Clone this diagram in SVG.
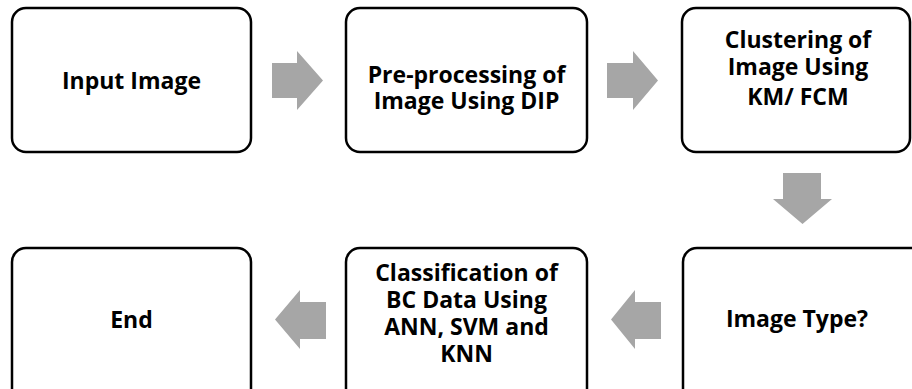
<svg xmlns="http://www.w3.org/2000/svg" width="912" height="389" viewBox="0 0 912 389">
  <style>
    .box { fill: #ffffff; stroke: #000000; stroke-width: 2.5; }
    .lbl { font-family: "Open Sans", "Noto Sans", "Liberation Sans", sans-serif; font-weight: 700; font-size: 23px; fill: #000000; text-anchor: middle; }
    .flow { fill: #a6a6a6; stroke: none; }
  </style>
  <rect width="912" height="389" fill="#ffffff"/>

  <!-- block arrows between the steps -->
  <g id="connectors">
    <polygon class="flow" points="272,63 297,63 297,51 323,80.5 297,110 297,98 272,98"/>
    <polygon class="flow" points="607,63 633,63 633,51 658,80.5 633,110 633,98 607,98"/>
    <polygon class="flow" points="783,173 821,173 821,199 832,199 802.5,224 773,199 783,199"/>
    <polygon class="flow" points="661,302 635,302 635,290 611,319.5 635,349 635,339 661,339"/>
    <polygon class="flow" points="326,302 300,302 300,290 275,319.5 300,349 300,339 326,339"/>
  </g>

  <g id="input-image">
    <rect class="box" x="12" y="8" width="239" height="144" rx="14"/>
    <text class="lbl" x="131.5" y="89">Input Image</text>
  </g>

  <g id="preprocessing">
    <rect class="box" x="346" y="8" width="241" height="144" rx="14"/>
    <text class="lbl" x="466.5" y="83">Pre-processing of</text>
    <text class="lbl" x="466.5" y="109">Image Using DIP</text>
  </g>

  <g id="clustering">
    <rect class="box" x="682" y="8" width="228" height="144" rx="14"/>
    <text class="lbl" x="798" y="48">Clustering of</text>
    <text class="lbl" x="798" y="75">Image Using</text>
    <text class="lbl" x="798" y="105">KM/ FCM</text>
  </g>

  <g id="image-type">
    <rect class="box" x="683" y="248" width="250" height="160" rx="14"/>
    <text class="lbl" x="797" y="327">Image Type?</text>
  </g>

  <g id="classification">
    <rect class="box" x="346" y="248" width="241" height="160" rx="14"/>
    <text class="lbl" x="466.5" y="281">Classification of</text>
    <text class="lbl" x="466.5" y="308">BC Data Using</text>
    <text class="lbl" x="466.5" y="335">ANN, SVM and</text>
    <text class="lbl" x="466.5" y="362">KNN</text>
  </g>

  <g id="end">
    <rect class="box" x="12" y="248" width="239" height="160" rx="14"/>
    <text class="lbl" x="131.5" y="328">End</text>
  </g>
</svg>
